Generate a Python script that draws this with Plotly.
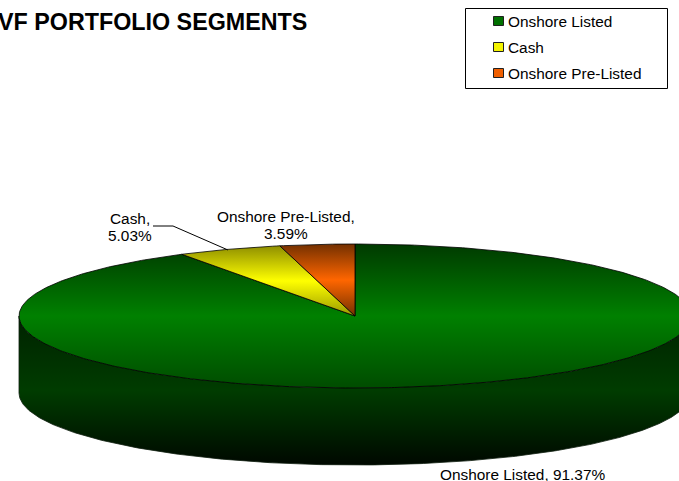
import numpy as np
import plotly.graph_objects as go

title = "VF PORTFOLIO SEGMENTS"
categories = ["Onshore Listed", "Cash", "Onshore Pre-Listed"]
values = [91.37, 5.03, 3.59]

W, H = 679, 481
CX, CY, RX, RY, DEPTH = 355, 316, 336, 72, 77
FONT = "Liberation Sans"

grads = {
    "Onshore Listed": [[0, "#004c00"], [0.5, "#008000"], [1, "#003a00"]],
    "Cash": [[0, "#9a9a00"], [0.5, "#ffff00"], [1, "#8f8f00"]],
    "Onshore Pre-Listed": [[0, "#733000"], [0.5, "#ff6600"], [1, "#733000"]],
}
swatch = {"Onshore Listed": "#007000", "Cash": "#f4f400", "Onshore Pre-Listed": "#f05f00"}


def pt(theta, dy=0.0):
    return CX + RX * np.sin(theta), CY - RY * np.cos(theta) + dy


fig = go.Figure()

# side wall (front half of the rim)
t = np.linspace(-np.pi / 2, -3 * np.pi / 2, 300)
xt, yt = pt(t)
xb, yb = pt(t[::-1], DEPTH)
fig.add_trace(go.Scatter(
    x=np.r_[xt, xb, xt[0]], y=np.r_[yt, yb, yt[0]], mode="lines", fill="toself",
    line=dict(color="#102010", width=0.8),
    fillgradient=dict(type="vertical", colorscale=[[0, "#000800"], [0.5, "#003c00"], [1, "#002200"]]),
    hoverinfo="skip", showlegend=False))

# top face wedges, clockwise from 12 o'clock
start = 0.0
total = sum(values)
for name, v in zip(categories, values):
    sweep = 2 * np.pi * v / total
    t = np.linspace(start, start + sweep, max(int(v * 6), 12))
    x, y = pt(t)
    fig.add_trace(go.Scatter(
        x=np.r_[CX, x, CX], y=np.r_[CY, y, CY], mode="lines", fill="toself", name=name,
        line=dict(color="black", width=0.8),
        fillgradient=dict(type="vertical", colorscale=grads[name]),
        hoverinfo="name", showlegend=False))
    start += sweep

# leader line of the Cash label
fig.add_trace(go.Scatter(x=[153, 173, 228], y=[226, 226, 250], mode="lines",
                         line=dict(color="black", width=1), hoverinfo="skip", showlegend=False))


def label(text, x, y, size=15.4, anchor="center", weight="normal"):
    fig.add_annotation(x=x, y=y, xref="x", yref="y", text=text, showarrow=False,
                       xanchor=anchor, yanchor="middle",
                       font=dict(family=FONT, size=size, color="black", weight=weight))


label(title, 309, 22, size=23.3, anchor="right", weight="bold")
label(f"{categories[1]},", 130, 218)
label(f"{values[1]:.2f}%", 130, 235)
label(f"{categories[2]},", 286, 216)
label(f"{values[2]:.2f}%", 286, 233)
label(f"{categories[0]}, {values[0]:.2f}%", 522, 474)

# legend box
shapes = [dict(type="rect", xref="x", yref="y", x0=465.5, x1=667.5, y0=8.5, y1=88.5,
               line=dict(color="black", width=1), fillcolor="white")]
for name, yy in zip(categories, [21, 47, 73]):
    shapes.append(dict(type="rect", xref="x", yref="y", x0=493.5, x1=503.5, y0=yy - 4.5, y1=yy + 4.5,
                       line=dict(color="#202020", width=1), fillcolor=swatch[name]))
    label(name, 506, yy, anchor="left")

fig.update_layout(
    width=W, height=H, margin=dict(l=0, r=0, t=0, b=0),
    paper_bgcolor="white", plot_bgcolor="white", shapes=shapes, showlegend=False,
    xaxis=dict(range=[0, W], visible=False, fixedrange=True),
    yaxis=dict(range=[H, 0], visible=False, fixedrange=True),
)
fig.write_html("out.html", config=dict(displayModeBar=False),
               post_script="document.body.style.margin='0';")
